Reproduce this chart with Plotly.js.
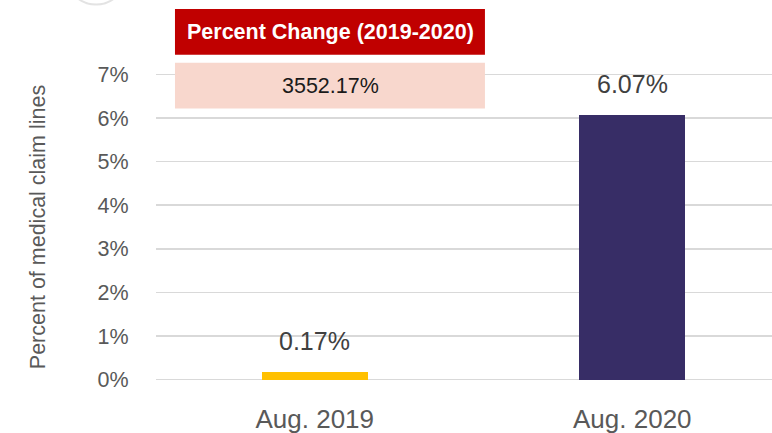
<!DOCTYPE html>
<html>
<head>
<meta charset="utf-8">
<script src="https://cdn.plot.ly/plotly-3.0.1.min.js"></script>
<style>html,body{margin:0;padding:0;background:#fff;}#chart{width:772px;height:433px;}</style>
</head>
<body>
<div id="chart"></div>
<script>
const categories = ['Aug. 2019', 'Aug. 2020'];
const values = [0.17, 6.07];
const valueLabels = ['0.17%', '6.07%'];
const barColors = ['#FFC000', '#372D66'];
const yTickVals = [0, 1, 2, 3, 4, 5, 6, 7];
const yTickText = ['0%', '1%', '2%', '3%', '4%', '5%', '6%', '7%'];
const changeTitle = 'Percent Change (2019-2020)';
const changeValue = '3552.17%';
const yTitle = 'Percent of medical claim lines';

const FONT = '"Liberation Sans Narrow", "Arial Narrow", "Liberation Sans", Arial, sans-serif';

const trace = {
  type: 'bar',
  x: categories,
  y: values,
  width: 0.334,
  marker: {color: barColors, line: {width: 0}},
  hoverinfo: 'none'
};

const annotations = categories.map((c, i) => ({
  x: c, y: values[i], xref: 'x', yref: 'y',
  text: valueLabels[i], showarrow: false,
  yanchor: 'bottom', yshift: 15,
  font: {family: FONT, size: 25, color: '#404040'}
}));

annotations.push({
  xref: 'paper', yref: 'paper', x: 0.2825, y: 1.121,
  text: '<b>' + changeTitle + '</b>', showarrow: false,
  xanchor: 'center', yanchor: 'middle',
  font: {family: FONT, size: 21.5, color: '#FFFFFF'}
});
annotations.push({
  xref: 'paper', yref: 'paper', x: 0.2825, y: 0.950,
  text: changeValue, showarrow: false,
  xanchor: 'center', yanchor: 'middle',
  font: {family: FONT, size: 21.5, color: '#1A1A1A'}
});

const layout = {
  width: 772, height: 433,
  margin: {l: 156, r: 0, t: 69.6, b: 48.6, pad: 0},
  paper_bgcolor: '#FFFFFF', plot_bgcolor: '#FFFFFF',
  showlegend: false,
  bargap: 0,
  xaxis: {
    type: 'category',
    range: [-0.5, 1.44],
    showgrid: false, zeroline: false, showline: false,
    ticks: 'outside', ticklen: 12, tickcolor: 'rgba(0,0,0,0)',
    tickfont: {family: FONT, size: 26, color: '#595959'},
    fixedrange: true
  },
  yaxis: {
    range: [-0.1, 7.1],
    tickvals: yTickVals, ticktext: yTickText,
    showgrid: true, gridcolor: '#D9D9D9', gridwidth: 1.5,
    zeroline: false, showline: false,
    ticks: 'outside', ticklen: 22, tickcolor: 'rgba(0,0,0,0)',
    tickfont: {family: FONT, size: 21.5, color: '#595959'},
    title: {text: yTitle, standoff: 46, font: {family: FONT, size: 21.5, color: '#595959'}},
    automargin: false,
    fixedrange: true
  },
  shapes: [
    {type: 'rect', xref: 'paper', yref: 'paper', x0: 0.0308, x1: 0.534, y0: 1.0486, y1: 1.194,
     fillcolor: '#C00000', line: {width: 0}, layer: 'above'},
    {type: 'rect', xref: 'paper', yref: 'paper', x0: 0.0308, x1: 0.534, y0: 0.877, y1: 1.0232,
     fillcolor: '#F8D7CD', line: {width: 0}, layer: 'above'},
    {type: 'circle', xref: 'paper', yref: 'paper', x0: -0.146, x1: -0.0487, y0: 1.2084, y1: 1.399,
     line: {color: 'rgba(200,200,200,0.5)', width: 2}, layer: 'above'}
  ],
  annotations: annotations
};

Plotly.newPlot('chart', [trace], layout, {displayModeBar: false, staticPlot: true});
</script>
</body>
</html>
